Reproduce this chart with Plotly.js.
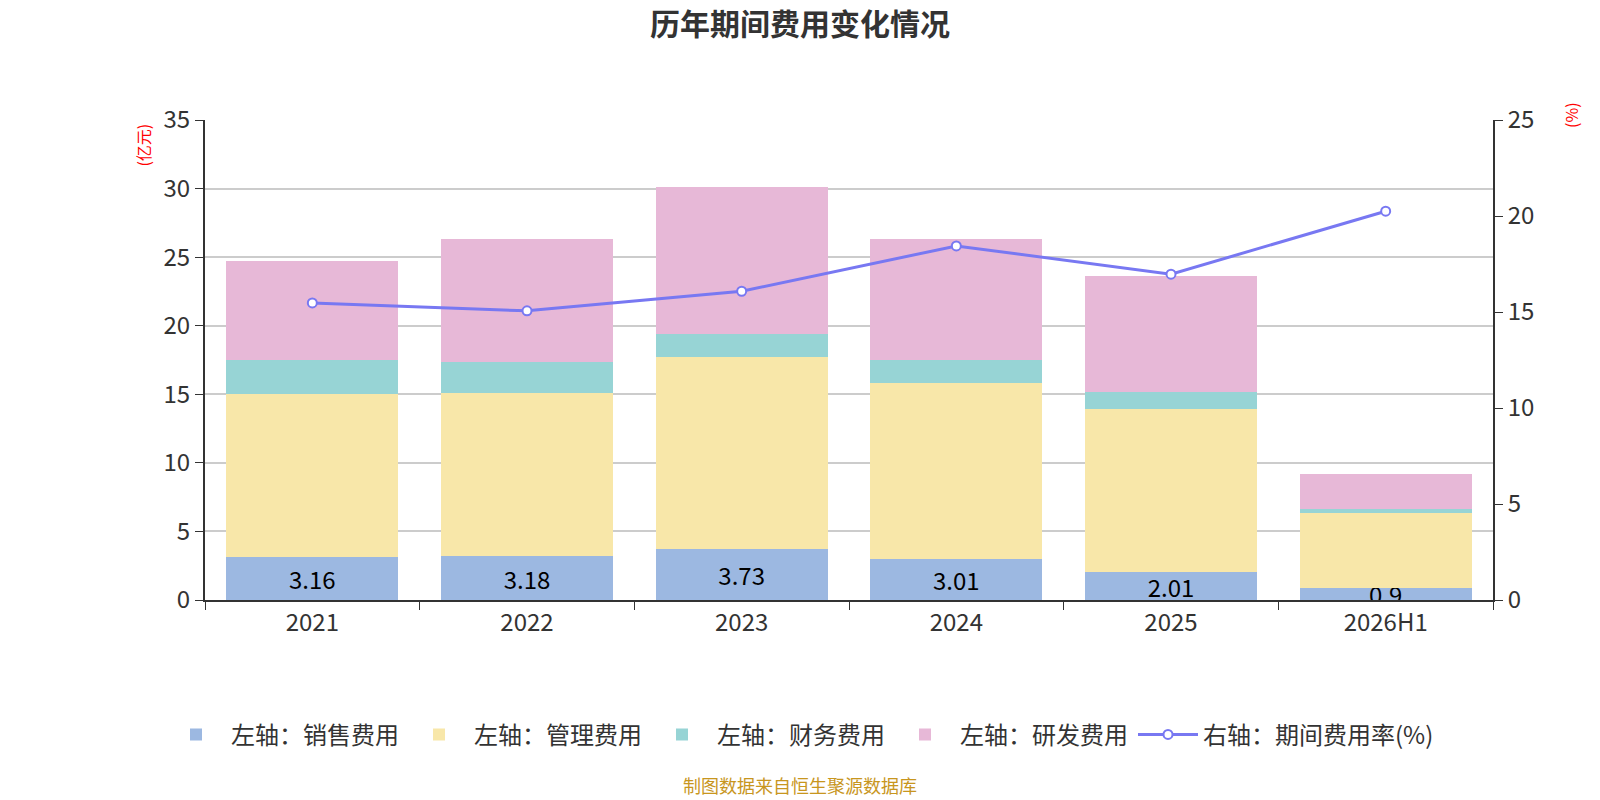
<!DOCTYPE html>
<html>
<head>
<meta charset="utf-8">
<script src="https://cdn.plot.ly/plotly-3.0.1.min.js"></script>
<style>
  html, body { margin: 0; padding: 0; background: #fff; }
  #chart { width: 1600px; height: 800px; }
</style>
</head>
<body>
<div id="chart"></div>
<script>
// 历年期间费用变化情况
const years = ['2021', '2022', '2023', '2024', '2025', '2026H1'];
const xiaoshou = [3.16, 3.18, 3.73, 3.01, 2.01, 0.9];      // 销售费用
const guanli = [11.87, 11.94, 13.96, 12.84, 11.95, 5.48];  // 管理费用
const caiwu = [2.49, 2.22, 1.67, 1.66, 1.21, 0.29];        // 财务费用
const yanfa = [7.21, 8.95, 10.75, 8.84, 8.48, 2.54];       // 研发费用
const feiyonglv = [15.47, 15.06, 16.08, 18.44, 16.97, 20.25]; // 期间费用率(%)

const FONT = '"Noto Sans CJK SC", "Noto Sans", sans-serif';
const COLORS = {
  xiaoshou: '#9cb8e1',
  guanli: '#f8e7a9',
  caiwu: '#97d4d5',
  yanfa: '#e7b8d7',
  line: '#7878f2',
  axis: '#333333',
  grid: '#cccccc',
};

// 页面中心在绘图区坐标中的位置
const CENTER_X = (800 - 205) / 1288;

function barTrace(name, y, color, withText) {
  const t = {
    type: 'bar',
    name: name,
    x: years,
    y: y,
    marker: { color: color, line: { width: 0 } },
    hoverinfo: 'name+y',
  };
  if (withText) {
    t.text = y.map(v => String(v));
    t.textposition = 'inside';
    t.insidetextanchor = 'middle';
    t.constraintext = 'none';
    t.textangle = 0;
    t.textfont = { family: FONT, size: 24, color: '#000000' };
  }
  return t;
}

const traces = [
  barTrace('左轴：销售费用', xiaoshou, COLORS.xiaoshou, true),
  barTrace('左轴：管理费用', guanli, COLORS.guanli, false),
  barTrace('左轴：财务费用', caiwu, COLORS.caiwu, false),
  barTrace('左轴：研发费用', yanfa, COLORS.yanfa, false),
  {
    type: 'scatter',
    mode: 'lines+markers',
    name: '右轴：期间费用率(%)',
    x: years,
    y: feiyonglv,
    yaxis: 'y2',
    line: { color: COLORS.line, width: 3 },
    marker: { size: 9, color: '#ffffff', line: { color: COLORS.line, width: 2 } },
  },
];

const layout = {
  width: 1600,
  height: 800,
  paper_bgcolor: '#ffffff',
  plot_bgcolor: '#ffffff',
  font: { family: FONT, color: COLORS.axis, size: 24 },
  margin: { l: 205, r: 107, t: 120, b: 200 },
  barmode: 'stack',
  bargap: 0.2,
  title: {
    text: '<b>历年期间费用变化情况</b>',
    x: 0.5, xanchor: 'center',
    y: 0.97, yanchor: 'middle',
    font: { family: FONT, size: 30, color: COLORS.axis },
  },
  xaxis: {
    type: 'category',
    showline: true, linecolor: COLORS.axis, linewidth: 2,
    ticks: 'outside', tickson: 'boundaries', ticklen: 8, tickcolor: COLORS.axis,
    tickfont: { size: 24, color: COLORS.axis },
    tickangle: 0,
    showgrid: false,
  },
  yaxis: {
    range: [0, 35], dtick: 5,
    showline: true, linecolor: COLORS.axis, linewidth: 2,
    ticks: 'outside', ticklen: 8, tickcolor: COLORS.axis,
    gridcolor: COLORS.grid, gridwidth: 1.5,
    zeroline: false,
    tickfont: { size: 24, color: COLORS.axis },
  },
  yaxis2: {
    overlaying: 'y', side: 'right',
    range: [0, 25], dtick: 5,
    showline: true, linecolor: COLORS.axis, linewidth: 2,
    ticks: 'outside', ticklen: 8, tickcolor: COLORS.axis,
    showgrid: false, zeroline: false,
    tickfont: { size: 24, color: COLORS.axis },
  },
  legend: {
    orientation: 'h',
    x: CENTER_X, xanchor: 'center',
    y: -0.281, yanchor: 'middle',
    font: { size: 24, color: COLORS.axis },
    itemwidth: 60,
    traceorder: 'normal',
  },
  annotations: [
    {
      text: '(亿元)', xref: 'paper', yref: 'paper',
      x: -0.048, y: 0.996, xanchor: 'center', yanchor: 'top',
      textangle: -90, showarrow: false,
      font: { size: 16, color: '#ff0000' },
    },
    {
      text: '(%)', xref: 'paper', yref: 'paper',
      x: 1.0606, y: 1.042, xanchor: 'center', yanchor: 'top',
      textangle: -90, showarrow: false,
      font: { size: 16, color: '#ff0000' },
    },
    {
      text: '制图数据来自恒生聚源数据库', xref: 'paper', yref: 'paper',
      x: CENTER_X, y: -0.385, xanchor: 'center', yanchor: 'middle',
      showarrow: false,
      font: { size: 18, color: '#c8961e' },
    },
  ],
};

Plotly.newPlot('chart', traces, layout, { displayModeBar: false });
</script>
</body>
</html>
